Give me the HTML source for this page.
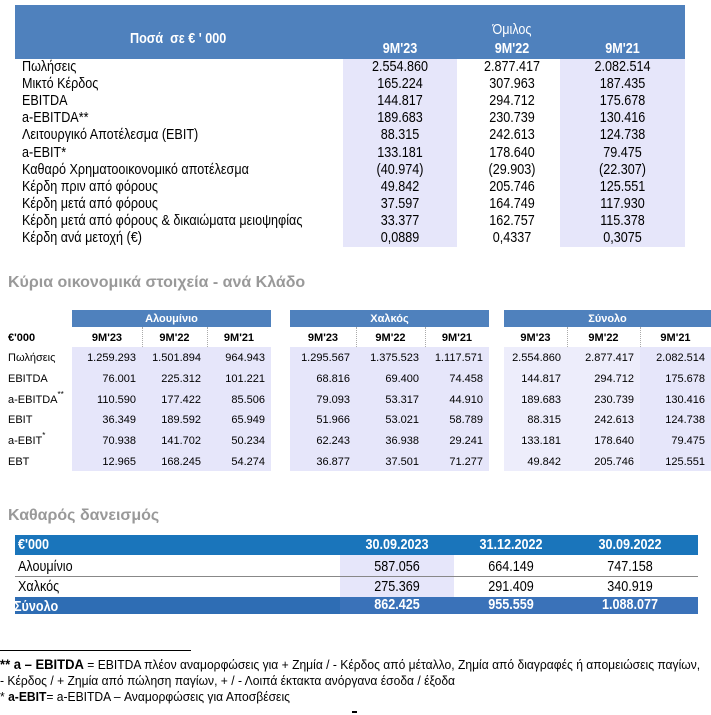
<!DOCTYPE html>
<html><head><meta charset="utf-8"><style>
*{margin:0;padding:0;box-sizing:border-box}
body{width:711px;height:715px;background:#fff;position:relative;overflow:hidden;font-family:"Liberation Sans",sans-serif;color:#000}
.a{position:absolute;white-space:nowrap;line-height:16px}
.n{font-size:15px;transform:scaleX(.84);transform-origin:0 50%}
.n.c{transform-origin:50% 50%}
.s{font-family:"Liberation Sans",sans-serif}
.c{text-align:center}
.r{text-align:right}
sup{line-height:0;font-size:8px;vertical-align:6px}
</style></head><body>
<!-- Table 1 -->
<div class="a" style="left:15px;top:5px;width:670px;height:54px;background:#4f81bd"></div>
<div class="a" style="left:343px;top:59px;width:114px;height:188px;background:#e6e6fa"></div>
<div class="a" style="left:560px;top:59px;width:125px;height:188px;background:#e6e6fa"></div>
<div class="a n" style="left:130px;top:31px;color:#fff;font-weight:bold">Ποσά &nbsp;σε € ' 000</div>
<div class="a n c" style="left:457px;top:22px;width:110px;color:#fff">Όμιλος</div>
<div class="a n c" style="left:343px;top:41px;width:114px;color:#fff;font-weight:bold">9M'23</div>
<div class="a n c" style="left:457px;top:41px;width:110px;color:#fff;font-weight:bold">9M'22</div>
<div class="a n c" style="left:560px;top:41px;width:125px;color:#fff;font-weight:bold">9M'21</div>
<div id="t1"></div>
<!-- Section 2 -->
<div class="a s" style="left:8px;top:275px;font-size:16px;font-weight:bold;color:#999">Κύρια οικονομικά στοιχεία - ανά Κλάδο</div>
<div id="t2"></div>
<!-- Section 3 -->
<div class="a s" style="left:8px;top:508px;font-size:16px;font-weight:bold;color:#999">Καθαρός δανεισμός</div>
<div class="a" style="left:15px;top:535px;width:683px;height:20px;background:#1a75bb"></div>
<div class="a" style="left:340px;top:555px;width:114px;height:42px;background:#e6e6fa"></div>
<div class="a" style="left:15px;top:576px;width:683px;height:1px;background:#888"></div>
<div class="a" style="left:15px;top:597px;width:683px;height:17px;background:#2e6db4"></div>
<div class="a" style="left:340px;top:597px;width:358px;height:17px;background:#3a72b9"></div>
<div class="a n" style="left:18px;top:537px;color:#fff;font-weight:bold">€'000</div>
<div class="a n c" style="left:340px;top:537px;width:114px;color:#fff;font-weight:bold">30.09.2023</div>
<div class="a n c" style="left:454px;top:537px;width:114px;color:#fff;font-weight:bold">31.12.2022</div>
<div class="a n c" style="left:568px;top:537px;width:124px;color:#fff;font-weight:bold">30.09.2022</div>
<div class="a n" style="left:18px;top:559px">Αλουμίνιο</div>
<div class="a n c" style="left:340px;top:559px;width:114px">587.056</div>
<div class="a n c" style="left:454px;top:559px;width:114px">664.149</div>
<div class="a n c" style="left:568px;top:559px;width:124px">747.158</div>
<div class="a n" style="left:18px;top:579px">Χαλκός</div>
<div class="a n c" style="left:340px;top:579px;width:114px">275.369</div>
<div class="a n c" style="left:454px;top:579px;width:114px">291.409</div>
<div class="a n c" style="left:568px;top:579px;width:124px">340.919</div>
<div class="a n" style="left:14px;top:599px;color:#fff;font-weight:bold">Σύνολο</div>
<div class="a n c" style="left:340px;top:597px;width:114px;color:#fff;font-weight:bold">862.425</div>
<div class="a n c" style="left:454px;top:597px;width:114px;color:#fff;font-weight:bold">955.559</div>
<div class="a n c" style="left:568px;top:597px;width:124px;color:#fff;font-weight:bold">1.088.077</div>
<div class="a" style="left:0;top:650px;width:191px;height:1px;background:#000"></div>
<div class="a n" style="left:0;top:656px;font-size:13px;transform:scaleX(.93)"><b style="font-size:14px">** a – EBITDA</b> = EBITDA πλέον αναμορφώσεις για + Ζημία / - Κέρδος από μέταλλο, Ζημία από διαγραφές ή απομειώσεις παγίων,</div>
<div class="a n" style="left:0;top:673px;font-size:13px;transform:scaleX(.93)">- Κέρδος / + Ζημία από πώληση παγίων, + / - Λοιπά έκτακτα ανόργανα έσοδα / έξοδα</div>
<div class="a n" style="left:0;top:689px;font-size:13px;transform:scaleX(.93)">* <b>a-EBIT</b>= a-EBITDA – Αναμορφώσεις για Αποσβέσεις</div>
<div class="a" style="left:352px;top:711px;width:5px;height:2px;background:#000"></div>
<script>
var r1=[["Πωλήσεις","2.554.860","2.877.417","2.082.514"],["Μικτό Κέρδος","165.224","307.963","187.435"],["EBITDA","144.817","294.712","175.678"],["a-EBITDA**","189.683","230.739","130.416"],["Λειτουργικό Αποτέλεσμα (EBIT)","88.315","242.613","124.738"],["a-EBIT*","133.181","178.640","79.475"],["Καθαρό Χρηματοοικονομικό αποτέλεσμα","(40.974)","(29.903)","(22.307)"],["Κέρδη πριν από φόρους","49.842","205.746","125.551"],["Κέρδη μετά από φόρους","37.597","164.749","117.930"],["Κέρδη μετά από φόρους & δικαιώματα μειοψηφίας","33.377","162.757","115.378"],["Κέρδη ανά μετοχή (€)","0,0889","0,4337","0,3075"]];
var h="",cx=[[343,114],[457,110],[560,125]];
r1.forEach(function(r,i){var y=59+i*17.1;
h+='<div class="a n" style="left:22px;top:'+y+'px">'+r[0]+'</div>';
for(var j=0;j<3;j++)h+='<div class="a n c" style="left:'+cx[j][0]+'px;top:'+y+'px;width:'+cx[j][1]+'px">'+r[j+1]+'</div>';});
document.getElementById("t1").outerHTML=h;
var g=[["Αλουμίνιο",[72,142,207,271],[1,1,1]],["Χαλκός",[290,356,425,489],[1,1,1]],["Σύνολο",[504,567,640,711],[0,0,1]]];
var rows=["Πωλήσεις","EBITDA","a-EBITDA<sup>**</sup>","EBIT","a-EBIT<sup>*</sup>","EBT"];
var d=[["1.259.293","1.501.894","964.943","1.295.567","1.375.523","1.117.571","2.554.860","2.877.417","2.082.514"],["76.001","225.312","101.221","68.816","69.400","74.458","144.817","294.712","175.678"],["110.590","177.422","85.506","79.093","53.317","44.910","189.683","230.739","130.416"],["36.349","189.592","65.949","51.966","53.021","58.789","88.315","242.613","124.738"],["70.938","141.702","50.234","62.243","36.938","29.241","133.181","178.640","79.475"],["12.965","168.245","54.274","36.877","37.501","71.277","49.842","205.746","125.551"]];
h="";
h+='<div class="a s" style="left:8px;top:330px;font-size:11px;font-weight:bold">€\'000</div>';
g.forEach(function(G,k){var x=G[1];
h+='<div class="a" style="left:'+x[0]+'px;top:310px;width:'+(x[3]-x[0])+'px;height:17px;background:#4f81bd"></div>';
h+='<div class="a s c" style="left:'+x[0]+'px;top:311px;width:'+(x[3]-x[0])+'px;color:#fff;font-weight:bold;font-size:11px">'+G[0]+'</div>';
var lab=["9M'23","9M'22","9M'21"];
for(var j=0;j<3;j++){
 h+='<div class="a" style="left:'+x[j]+'px;top:347px;width:'+(x[j+1]-x[j])+'px;height:124px;background:'+(G[2][j]?'#e6e6fa':'#ededfb')+'"></div>';
 h+='<div class="a s c" style="left:'+x[j]+'px;top:330px;width:'+(x[j+1]-x[j])+'px;font-size:11px;font-weight:bold">'+lab[j]+'</div>';
 if(j>0)h+='<div class="a" style="left:'+x[j]+'px;top:327px;width:0;height:20px;border-left:1px dotted #aaa"></div>';
 for(var i=0;i<6;i++)h+='<div class="a s r" style="left:'+x[j]+'px;top:'+(350+i*20.8)+'px;width:'+(x[j+1]-x[j]-6)+'px;font-size:11px">'+d[i][k*3+j]+'</div>';
}});
rows.forEach(function(r,i){h+='<div class="a s" style="left:8px;top:'+(350+i*20.8)+'px;font-size:11px">'+r+'</div>';});
document.getElementById("t2").outerHTML=h;
</script>
</body></html>
